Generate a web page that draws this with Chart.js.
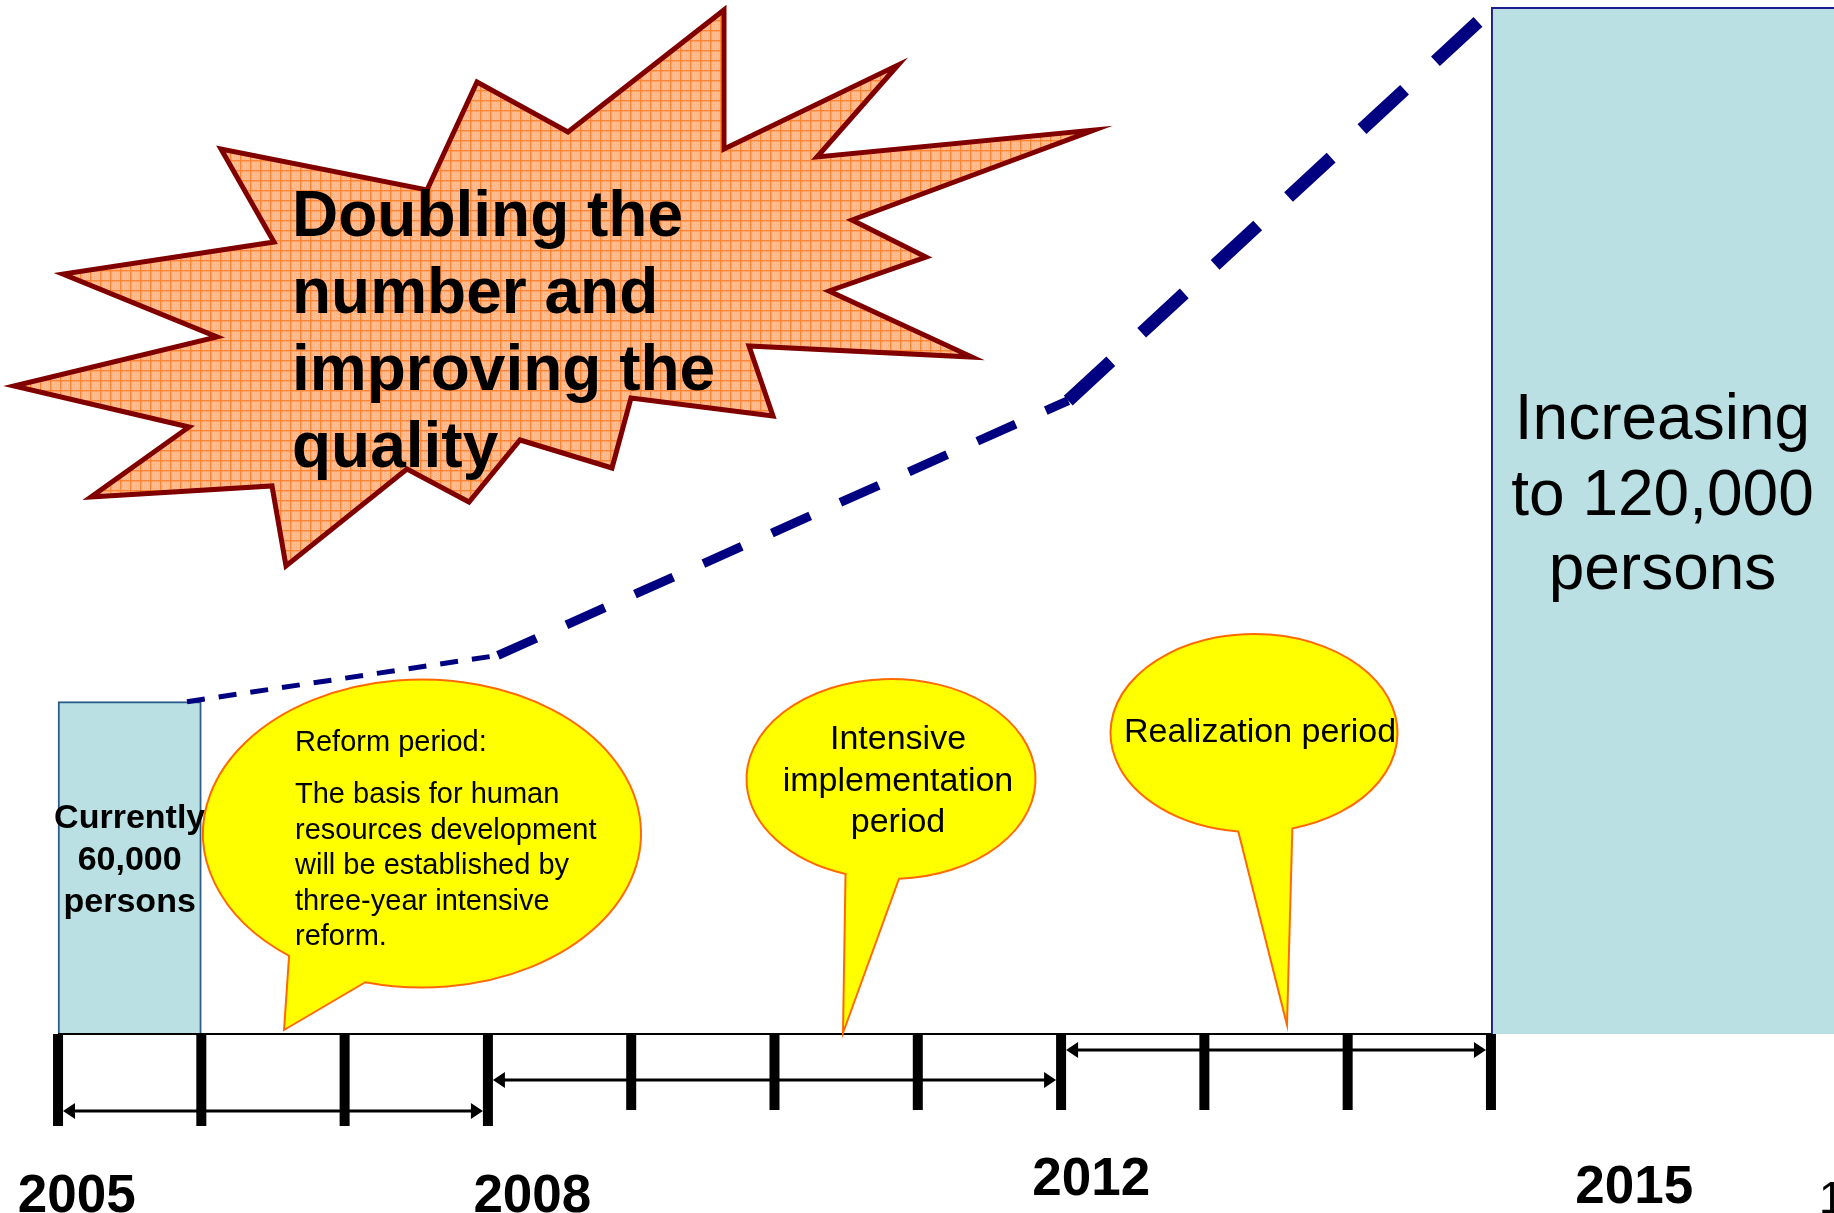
<!DOCTYPE html>
<html>
<head>
<meta charset="utf-8">
<script src="https://cdn.jsdelivr.net/npm/chart.js@4.4.1/dist/chart.umd.min.js"></script>
<style>
html,body{margin:0;padding:0;background:#ffffff;overflow:hidden}
#wrap{width:1834px;height:1213px;position:relative}
</style>
</head>
<body>
<div id="wrap"><canvas id="c"></canvas></div>
<script>
// ---------------- data ----------------
const barYears   = ['2005', '2015'];
const barStart   = [2005, 2015];
const barEnd     = [2006, 2018];
const barValues  = [60000, 120000];
const barTexts   = [['Currently', '60,000', 'persons'], ['Increasing', 'to 120,000', 'persons']];

const trendYears  = [2005.9, 2008.07, 2012.05, 2014.97];
const trendValues = [60000, 64000, 86000, 119400];

const tickYears   = [2005, 2006, 2007, 2008, 2009, 2010, 2011, 2012, 2013, 2014, 2015];
const periodStart = [2005, 2008, 2012];
const periodEnd   = [2008, 2012, 2015];
const yearLabels  = ['2005', '2008', '2012', '2015'];

const headline    = ['Doubling the', 'number and', 'improving the', 'quality'];
const reformNote  = ['Reform period:', 'The basis for human', 'resources development',
                     'will be established by', 'three-year intensive', 'reform.'];
const implNote    = ['Intensive', 'implementation', 'period'];
const realNote    = ['Realization period'];
const pageNumber  = '1';

// ---------------- drawing helpers ----------------
const FONT = '"Liberation Sans", Arial, Helvetica, sans-serif';

function makePattern(ctx) {
  const pc = document.createElement('canvas');
  pc.width = 10; pc.height = 10;
  const p = pc.getContext('2d');
  p.fillStyle = '#FFBF95'; p.fillRect(0, 0, 10, 10);
  p.fillStyle = '#FFB07E';
  for (let i = 0; i < 10; i += 2) for (let j = (i / 2) % 2; j < 10; j += 2) p.fillRect(i, j, 1, 1);
  p.fillStyle = '#FF8535';
  p.fillRect(0, 0, 10, 1.4);
  p.fillRect(0, 0, 1.4, 10);
  return ctx.createPattern(pc, 'repeat');
}

const burstShape = [
  [724, 10], [724, 149], [898, 65], [817, 157], [1094, 130], [852, 220], [926, 257],
  [829, 291], [972, 357], [749, 346], [773, 416], [631, 398], [612, 468], [520, 440],
  [469, 502], [407, 469], [286, 566], [272, 486], [91, 497], [189, 427], [14, 386],
  [217, 337], [63, 274], [274, 242], [221, 149], [427, 190], [477, 82], [568, 132]
];

function bubble(ctx, cx, cy, rx, ry, left, tip, right) {
  const ang = (p) => Math.atan2((p[1] - cy) / ry, (p[0] - cx) / rx);
  const aL = ang(left), aR = ang(right);
  ctx.beginPath();
  ctx.moveTo(tip[0], tip[1]);
  ctx.lineTo(cx + rx * Math.cos(aR), cy + ry * Math.sin(aR));
  ctx.ellipse(cx, cy, rx, ry, 0, aR, aL, true);
  ctx.lineTo(tip[0], tip[1]);
  ctx.closePath();
  ctx.fillStyle = '#FFFF00';
  ctx.fill();
  ctx.strokeStyle = '#FF6A00';
  ctx.lineWidth = 2;
  ctx.lineJoin = 'miter';
  ctx.stroke();
}

const decorations = {
  id: 'decorations',
  afterDatasetsDraw(chart) {
    const ctx = chart.ctx;
    const xs = chart.scales.x;
    const base = chart.chartArea.bottom;
    const px = (v) => xs.getPixelForValue(v);
    ctx.save();

    // baseline of the timeline
    ctx.strokeStyle = '#000000';
    ctx.lineWidth = 2;
    ctx.beginPath();
    ctx.moveTo(px(tickYears[0]), base);
    ctx.lineTo(px(barStart[1]), base);
    ctx.stroke();

    // year ticks
    ctx.fillStyle = '#000000';
    tickYears.forEach(t => {
      const len = t <= periodEnd[0] ? 92 : 76;
      ctx.fillRect(px(t) - 5, base, 10, len);
    });

    // period arrows
    const arrowOffset = [77, 46, 16];
    periodStart.forEach((s, i) => {
      const x0 = px(s) + 5, x1 = px(periodEnd[i]) - 5, yy = base + arrowOffset[i];
      ctx.strokeStyle = '#000000';
      ctx.lineWidth = 3;
      ctx.beginPath(); ctx.moveTo(x0 + 8, yy); ctx.lineTo(x1 - 8, yy); ctx.stroke();
      ctx.beginPath();
      ctx.moveTo(x0, yy); ctx.lineTo(x0 + 12, yy - 8); ctx.lineTo(x0 + 12, yy + 8); ctx.closePath();
      ctx.moveTo(x1, yy); ctx.lineTo(x1 - 12, yy - 8); ctx.lineTo(x1 - 12, yy + 8); ctx.closePath();
      ctx.fill();
    });

    // year labels
    const labelShift = [0.13, 0.31, 0.21, 1.0];
    const labelBase = [1212, 1212, 1195, 1203];
    ctx.font = 'bold 53px ' + FONT;
    ctx.textAlign = 'center';
    ctx.textBaseline = 'alphabetic';
    yearLabels.forEach((lab, i) => {
      ctx.fillText(lab, px(+lab + labelShift[i]), labelBase[i]);
    });
    ctx.font = '44px ' + FONT;
    ctx.textAlign = 'left';
    ctx.fillText(pageNumber, 1819, 1213);

    // bar texts
    ctx.textAlign = 'center';
    ctx.textBaseline = 'middle';
    ctx.font = 'bold 34px ' + FONT;
    const c0 = px((barStart[0] + barEnd[0]) / 2);
    barTexts[0].forEach((t, i) => ctx.fillText(t, c0, 819 + i * 42));
    ctx.textBaseline = 'alphabetic';
    ctx.font = '64px ' + FONT;
    const c1 = (px(barStart[1]) + chart.chartArea.right) / 2;
    const b1 = [439, 515, 589];
    barTexts[1].forEach((t, i) => ctx.fillText(t, c1, b1[i]));

    // starburst
    ctx.beginPath();
    burstShape.forEach((p, i) => i ? ctx.lineTo(p[0], p[1]) : ctx.moveTo(p[0], p[1]));
    ctx.closePath();
    ctx.fillStyle = makePattern(ctx);
    ctx.fill();
    ctx.strokeStyle = '#800000';
    ctx.lineWidth = 5;
    ctx.lineJoin = 'miter';
    ctx.miterLimit = 20;
    ctx.stroke();
    ctx.fillStyle = '#000000';
    ctx.font = 'bold 64px ' + FONT;
    ctx.textAlign = 'left';
    ctx.textBaseline = 'alphabetic';
    headline.forEach((t, i) => ctx.fillText(t, 292, 236 + i * 77));

    // speech bubbles
    bubble(ctx, 422, 833.5, 219, 154, [289, 956], [284, 1030], [365, 983]);
    bubble(ctx, 891, 779, 144.5, 100, [845, 875], [843, 1033], [899, 880]);
    bubble(ctx, 1254, 733, 143.5, 99, [1238, 833], [1287, 1025], [1293, 830]);

    ctx.fillStyle = '#000000';
    ctx.textBaseline = 'middle';
    ctx.textAlign = 'left';
    ctx.font = '29px ' + FONT;
    ctx.fillText(reformNote[0], 295, 743);
    reformNote.slice(1).forEach((t, i) => ctx.fillText(t, 295, 795 + i * 35.5));
    ctx.textAlign = 'center';
    ctx.font = '34px ' + FONT;
    implNote.forEach((t, i) => ctx.fillText(t, 898, 740 + i * 41.5));
    realNote.forEach((t, i) => ctx.fillText(t, 1260, 733 + i * 41.5));

    ctx.restore();
  }
};

// ---------------- chart ----------------
const trendWidths = [5, 9, 13];
const trendDashes = [[18, 14], [42, 33], [58, 42]];

const datasets = [{
  type: 'line',
  label: 'trend',
  data: trendYears.map((yr, i) => ({ x: yr, y: trendValues[i] })),
  borderColor: '#000080',
  borderCapStyle: 'butt',
  pointRadius: 0,
  tension: 0,
  fill: false,
  segment: {
    borderWidth: c => trendWidths[c.p0DataIndex],
    borderDash: c => trendDashes[c.p0DataIndex]
  }
}];
barValues.forEach((v, i) => {
  datasets.push({
    type: 'bar',
    label: barYears[i],
    data: [{ x: (barStart[i] + barEnd[i]) / 2, y: v }],
    backgroundColor: '#BAE0E3',
    borderColor: i === 0 ? '#2B5C8A' : '#1C1C8E',
    borderWidth: 2,
    borderSkipped: false,
    grouped: false,
    categoryPercentage: 1,
    barPercentage: barEnd[i] - barStart[i]
  });
});

new Chart(document.getElementById('c'), {
  type: 'bar',
  data: { datasets },
  options: {
    responsive: true,
    maintainAspectRatio: false,
    animation: false,
    events: [],
    layout: { padding: { left: 0, right: 0, top: 0, bottom: 179 } },
    plugins: { legend: { display: false }, tooltip: { enabled: false } },
    scales: {
      x: {
        type: 'linear',
        display: false,
        offset: false,
        grid: { offset: false },
        min: 2004.595,
        max: 2017.394,
        afterBuildTicks: (scale) => { scale.ticks = tickYears.map(v => ({ value: v })); }
      },
      y: {
        type: 'linear',
        display: false,
        min: 31300,
        max: 120600
      }
    }
  },
  plugins: [decorations]
});
</script>
</body>
</html>
